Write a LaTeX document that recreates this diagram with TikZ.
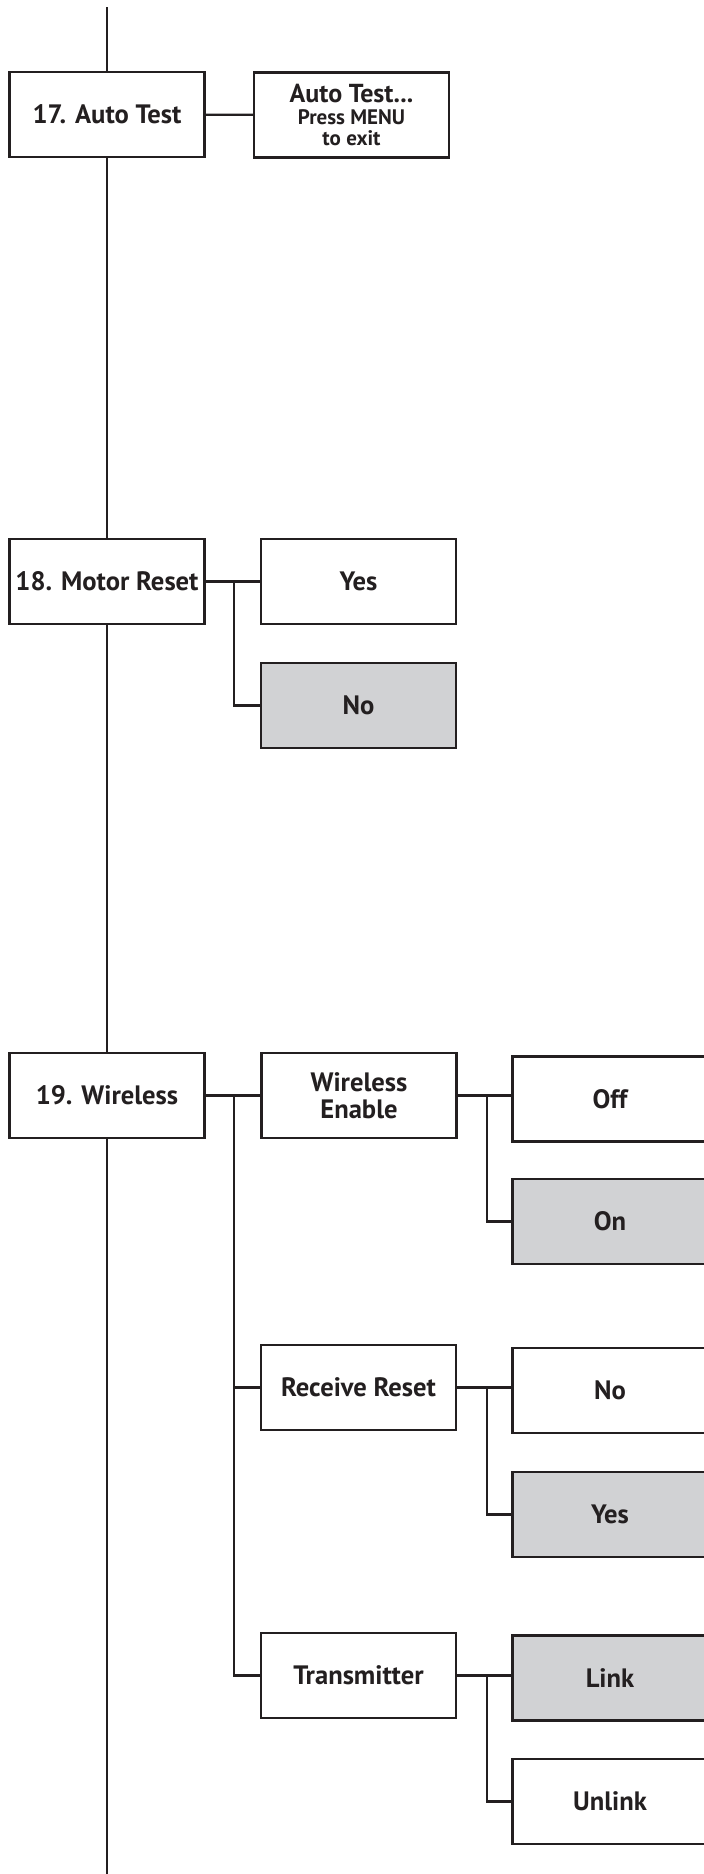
\documentclass[tikz,border=0pt]{standalone}
\usepackage{fontspec}
\setmainfont{PT Sans}
\definecolor{menugray}{HTML}{D1D2D4}
\definecolor{ink}{HTML}{231F20}
\begin{document}
\begin{tikzpicture}[x=0.5pt, y=-0.5pt, line width=1.1pt, color=ink,
  menubox/.style={draw, fill=white, minimum width=97.5pt, minimum height=42.5pt, inner sep=0pt, align=center, font=\fontsize{13.3}{13}\selectfont\bfseries},
  chosen/.style={menubox, fill=menugray}]
  \useasboundingbox (0,0) rectangle (704,1874);
  \coordinate (top) at (107,7);
  \coordinate (bot) at (107,1874);
  \node[menubox] (autotest) at (107,114.5) {17. Auto Test};
  \node[menubox, font=\fontsize{10.5}{10.8}\selectfont\bfseries] (testmsg) at (351.5,115) {{\fontsize{13}{10.8}\selectfont Auto Test...}\\ Press MENU\\ to exit};
  \node[menubox] (motor) at (107,581.5) {18. Motor Reset};
  \node[menubox] (motoryes) at (358.5,581.5) {Yes};
  \node[chosen] (motorno) at (358.5,705.5) {No};
  \node[menubox] (wireless) at (107,1095.5) {19. Wireless};
  \node[menubox, font=\fontsize{13.3}{13.5}\selectfont\bfseries] (enable) at (359,1095.5) {Wireless\\ Enable};
  \node[menubox] (enoff) at (610,1099) {Off};
  \node[chosen] (enon) at (610,1221.5) {On};
  \node[menubox] (receive) at (358.5,1387.5) {Receive Reset};
  \node[menubox] (recno) at (610,1390.5) {No};
  \node[chosen] (recyes) at (610,1514.5) {Yes};
  \node[menubox] (transmit) at (358.5,1675.5) {Transmitter};
  \node[chosen] (txlink) at (610,1678) {Link};
  \node[menubox] (txunlink) at (610,1801.5) {Unlink};
  \draw (top) -- (autotest) -- (motor) -- (wireless) -- (bot);
  \draw (autotest) -- (testmsg);
  \draw (motor) -- (motoryes);
  \draw ([xshift=14pt]motor.east) |- (motorno.west);
  \draw (wireless) -- (enable);
  \draw ([xshift=14pt]wireless.east) |- (receive.west);
  \draw ([xshift=14pt]wireless.east) |- (transmit.west);
  \draw (enable.east) -- (enable.east -| enoff.west);
  \draw ([xshift=14.5pt]enable.east) |- (enon.west);
  \draw (receive.east) -- (receive.east -| recno.west);
  \draw ([xshift=15pt]receive.east) |- (recyes.west);
  \draw (transmit.east) -- (transmit.east -| txlink.west);
  \draw ([xshift=15pt]transmit.east) |- (txunlink.west);
\end{tikzpicture}
\end{document}
